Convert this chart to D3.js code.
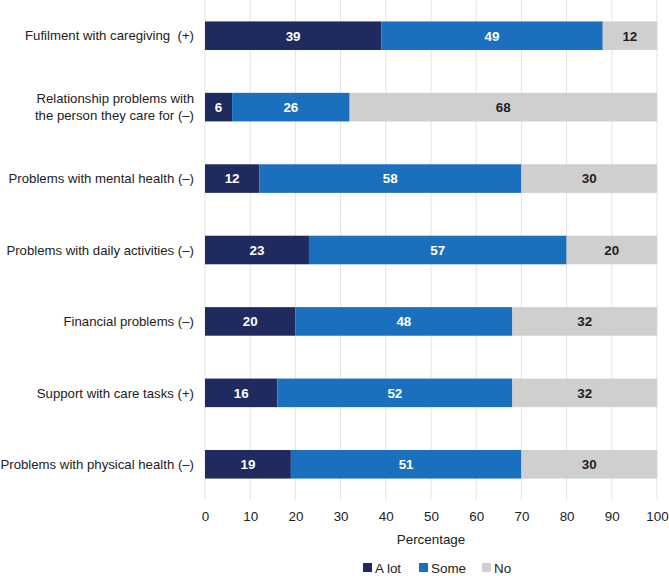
<!DOCTYPE html>
<html>
<head>
<meta charset="utf-8">
<script src="https://cdn.jsdelivr.net/npm/d3@7"></script>
<style>
  body { margin: 0; background: #fff; }
  svg { display: block; font-family: "Liberation Sans", Arial, sans-serif; }
</style>
</head>
<body>
<svg id="chart" width="669" height="576"></svg>
<script>
// categories, top to bottom (each label may have two lines)
var categories = [
  ["Fufilment with caregiving  (+)"],
  ["Relationship problems with", "the person they care for (\u2013)"],
  ["Problems with mental health (\u2013)"],
  ["Problems with daily activities (\u2013)"],
  ["Financial problems (\u2013)"],
  ["Support with care tasks (+)"],
  ["Problems with physical health (\u2013)"]
];
var seriesNames = ["A lot", "Some", "No"];
var aLot = [39, 6, 12, 23, 20, 16, 19];
var some = [49, 26, 58, 57, 48, 52, 51];
var no   = [12, 68, 30, 20, 32, 32, 30];
var xTicks = [0, 10, 20, 30, 40, 50, 60, 70, 80, 90, 100];

var colors = { "A lot": "#1f2a5e", "Some": "#1a70bd", "No": "#d0cfd0" };
var labelColors = { "A lot": "#fff", "Some": "#fff", "No": "#222" };

var margin = { top: 0, left: 205, right: 12, bottom: 76 };
var svg = d3.select("#chart");
var width = 669 - margin.left - margin.right;
var height = 576 - margin.top - margin.bottom;

var g = svg.append("g").attr("transform", "translate(" + margin.left + "," + margin.top + ")");

var x = d3.scaleLinear().domain([0, 100]).range([0, 452]);
var y = d3.scaleBand().domain(d3.range(categories.length)).range([0, height])
  .paddingInner(0.6).paddingOuter(0.3);

// rows for the stack
var rows = categories.map(function(c, i) {
  return { i: i, "A lot": aLot[i], "Some": some[i], "No": no[i] };
});
var stack = d3.stack().keys(seriesNames)(rows);

// grid
g.selectAll(".grid").data(xTicks).enter().append("line")
  .attr("x1", function(d) { return x(d); })
  .attr("x2", function(d) { return x(d); })
  .attr("y1", 0).attr("y2", height)
  .attr("stroke", "#e3e3e3").attr("stroke-width", 1);

// bars
var layer = g.selectAll(".layer").data(stack).enter().append("g")
  .attr("fill", function(d) { return colors[d.key]; });

layer.selectAll("rect").data(function(d) { return d; }).enter().append("rect")
  .attr("x", function(d) { return x(d[0]); })
  .attr("y", function(d) { return y(d.data.i); })
  .attr("width", function(d) { return x(d[1]) - x(d[0]); })
  .attr("height", y.bandwidth());

// value labels
stack.forEach(function(s) {
  g.selectAll(".lbl-" + s.index).data(s).enter().append("text")
    .attr("x", function(d) { return (x(d[0]) + x(d[1])) / 2; })
    .attr("y", function(d) { return y(d.data.i) + y.bandwidth() / 2; })
    .attr("dy", "0.36em")
    .attr("text-anchor", "middle")
    .attr("font-size", 13.4)
    .attr("font-weight", "bold")
    .attr("fill", labelColors[s.key])
    .text(function(d) { return d.data[s.key]; });
});

// category labels
var catG = g.selectAll(".cat").data(categories).enter().append("text")
  .attr("text-anchor", "end")
  .attr("font-size", 13.2)
  .attr("fill", "#222")
  .style("white-space", "pre")
  .attr("transform", function(d, i) {
    return "translate(-11," + (y(i) + y.bandwidth() / 2) + ")";
  });
catG.selectAll("tspan").data(function(d) { return d; }).enter().append("tspan")
  .attr("x", 0)
  .attr("y", function(d, j, nodes) {
    var n = nodes.length;
    return (j - (n - 1) / 2) * 17;
  })
  .attr("dy", "0.36em")
  .text(function(d) { return d; });

// x axis
var xAxis = d3.axisBottom(x).tickValues(xTicks).tickSize(0).tickPadding(11);
var ax = g.append("g").attr("transform", "translate(0," + height + ")").call(xAxis);
ax.select(".domain").remove();
ax.selectAll("text").attr("font-size", 13.4).attr("fill", "#222")
  .attr("font-family", "Liberation Sans, Arial, sans-serif");

g.append("text")
  .attr("x", x(50)).attr("y", height + 39)
  .attr("dy", "0.36em")
  .attr("text-anchor", "middle")
  .attr("font-size", 13.4).attr("fill", "#222")
  .text("Percentage");

// legend
var legendX = [363, 419, 482];
var legend = svg.selectAll(".legend").data(seriesNames).enter().append("g")
  .attr("transform", function(d, i) { return "translate(" + legendX[i] + ",568)"; });
legend.append("rect").attr("x", 0).attr("y", -5).attr("width", 9).attr("height", 9)
  .attr("fill", function(d) { return colors[d]; });
legend.append("text").attr("x", 12).attr("y", 0).attr("dy", "0.36em")
  .attr("font-size", 13.4).attr("fill", "#222")
  .text(function(d) { return d; });
</script>
</body>
</html>
